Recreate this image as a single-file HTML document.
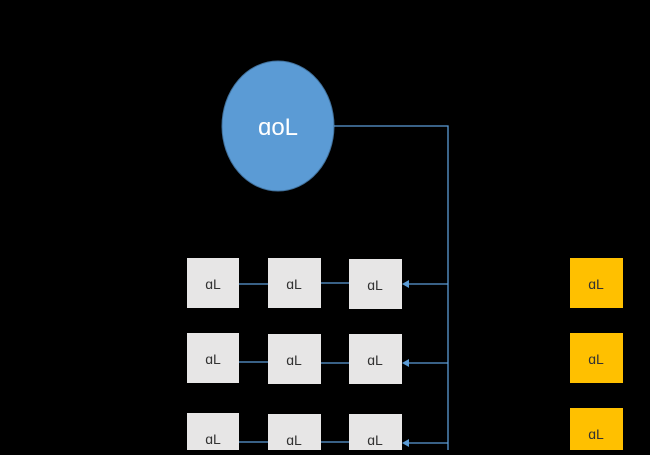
<!DOCTYPE html>
<html><head><style>
body{margin:0;background:#000;width:650px;height:450px;overflow:hidden;font-family:"Liberation Sans",sans-serif}
</style></head><body>
<svg width="650" height="450" xmlns="http://www.w3.org/2000/svg">
<rect width="650" height="450" fill="#000"/>
<ellipse cx="278" cy="126" rx="56" ry="65" fill="#5b9bd5" stroke="#41719c" stroke-width="1"/>
<text x="278" y="135" font-size="24" fill="#fff" text-anchor="middle">ɑoL</text>
<g stroke="#5b9bd5" stroke-width="1.3" fill="none">
<polyline points="334,126 448,126 448,450"/>
<line x1="448" y1="284" x2="408" y2="284"/>
<line x1="448" y1="363" x2="408" y2="363"/>
<line x1="448" y1="443" x2="408" y2="443"/>
<line x1="239" y1="284" x2="268" y2="284"/><line x1="321" y1="283" x2="349" y2="283"/>
<line x1="239" y1="362" x2="268" y2="362"/><line x1="321" y1="363" x2="349" y2="363"/>
<line x1="239" y1="442" x2="268" y2="442"/><line x1="321" y1="442" x2="349" y2="442"/>
</g>
<g fill="#5b9bd5">
<polygon points="402,284 409,280 409,288"/>
<polygon points="402,363 409,359 409,367"/>
<polygon points="402,443 409,439 409,447"/>
</g>
<g fill="#e7e6e6">
<rect x="187" y="258" width="52" height="50"/><rect x="268" y="258" width="53" height="50"/><rect x="349" y="259" width="53" height="50"/>
<rect x="187" y="333" width="52" height="50"/><rect x="268" y="334" width="53" height="50"/><rect x="349" y="334" width="53" height="50"/>
<rect x="187" y="413" width="52" height="50"/><rect x="268" y="414" width="53" height="50"/><rect x="349" y="414" width="53" height="50"/>
</g>
<g fill="#ffc000">
<rect x="570" y="258" width="53" height="50"/><rect x="570" y="333" width="53" height="50"/><rect x="570" y="408" width="53" height="50"/>
</g>
<g font-size="14" fill="#333" text-anchor="middle">
<text x="213" y="289">ɑL</text><text x="294" y="289">ɑL</text><text x="375" y="290">ɑL</text>
<text x="213" y="364">ɑL</text><text x="294" y="365">ɑL</text><text x="375" y="365">ɑL</text>
<text x="213" y="444">ɑL</text><text x="294" y="445">ɑL</text><text x="375" y="445">ɑL</text>
<text x="596" y="289">ɑL</text><text x="596" y="364">ɑL</text><text x="596" y="439">ɑL</text>
</g>
</svg>
</body></html>
